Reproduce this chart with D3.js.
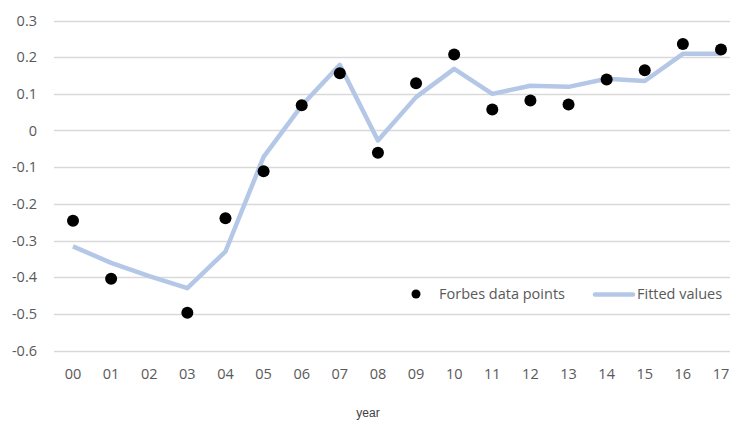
<!DOCTYPE html>
<html>
<head>
<meta charset="utf-8">
<style>
  body { margin: 0; background: #fff; }
  svg { display: block; }
</style>
</head>
<body>
<svg width="730" height="421"></svg>
<script src="https://d3js.org/d3.v7.min.js"></script>
<script>
// chart data
var years = ["00", "01", "02", "03", "04", "05", "06", "07", "08", "09", "10", "11", "12", "13", "14", "15", "16", "17"];
var forbes = [-0.246, -0.404, null, -0.497, -0.239, -0.111, 0.069, 0.156, -0.061, 0.129, 0.207, 0.057, 0.082, 0.071, 0.139, 0.164, 0.236, 0.221];
var fitted = [-0.316, -0.361, -0.397, -0.43, -0.33, -0.072, 0.068, 0.179, -0.027, 0.091, 0.168, 0.1, 0.122, 0.119, 0.141, 0.135, 0.209, 0.209];
var yTicks = [0.3, 0.2, 0.1, 0, -0.1, -0.2, -0.3, -0.4, -0.5, -0.6];

var svg = d3.select("svg");
var font = "'Open Sans', 'Noto Sans', sans-serif";

var x = d3.scalePoint().domain(years).range([73, 721]);
var y = d3.scaleLinear().domain([-0.6, 0.3]).range([350.5, 20.5]);

// gridlines
svg.append("g").selectAll("line")
    .data(yTicks)
    .enter().append("line")
    .attr("x1", 54).attr("x2", 730)
    .attr("y1", d => Math.round(y(d)) + 0.5)
    .attr("y2", d => Math.round(y(d)) + 0.5)
    .attr("stroke", "#d9d9d9")
    .attr("stroke-width", 1.3);

// y labels (plain hyphen, like the original)
svg.append("g").selectAll("text")
    .data(yTicks)
    .enter().append("text")
    .attr("x", 37).attr("y", d => y(d) + 5)
    .attr("text-anchor", "end")
    .attr("font-family", font).attr("font-size", 14.5)
    .attr("fill", "#595959")
    .text(d => d === 0 ? "0" : d3.format(".1f")(d).replace("\u2212", "-"));

// x labels
svg.append("g").selectAll("text")
    .data(years)
    .enter().append("text")
    .attr("x", d => x(d)).attr("y", 379)
    .attr("text-anchor", "middle")
    .attr("font-family", font).attr("font-size", 14.5)
    .attr("fill", "#595959")
    .text(d => d);

// axis title
svg.append("text")
    .attr("x", 368).attr("y", 417)
    .attr("text-anchor", "middle")
    .attr("font-family", "'Liberation Sans', Arial, sans-serif")
    .attr("font-size", 12)
    .attr("fill", "#404040")
    .text("year");

// fitted line
var line = d3.line()
    .x((d, i) => x(years[i]))
    .y(d => y(d));

svg.append("path")
    .datum(fitted)
    .attr("d", line)
    .attr("fill", "none")
    .attr("stroke", "#b4c7e7")
    .attr("stroke-width", 4.5)
    .attr("stroke-linejoin", "round");

// forbes points
svg.append("g").selectAll("circle")
    .data(forbes.map((v, i) => ({year: years[i], v: v})).filter(d => d.v !== null))
    .enter().append("circle")
    .attr("cx", d => x(d.year))
    .attr("cy", d => y(d.v))
    .attr("r", 6)
    .attr("fill", "#000");

// legend
var lg = svg.append("g");
lg.append("circle").attr("cx", 416).attr("cy", 294).attr("r", 4.5).attr("fill", "#000");
lg.append("text").attr("x", 439).attr("y", 299)
    .attr("font-family", font).attr("font-size", 14.5).attr("fill", "#595959")
    .text("Forbes data points");
lg.append("line").attr("x1", 595).attr("x2", 633).attr("y1", 294.5).attr("y2", 294.5)
    .attr("stroke", "#b4c7e7").attr("stroke-width", 4.5).attr("stroke-linecap", "round");
lg.append("text").attr("x", 637).attr("y", 299)
    .attr("font-family", font).attr("font-size", 14.5).attr("fill", "#595959")
    .text("Fitted values");
</script>
</body>
</html>
